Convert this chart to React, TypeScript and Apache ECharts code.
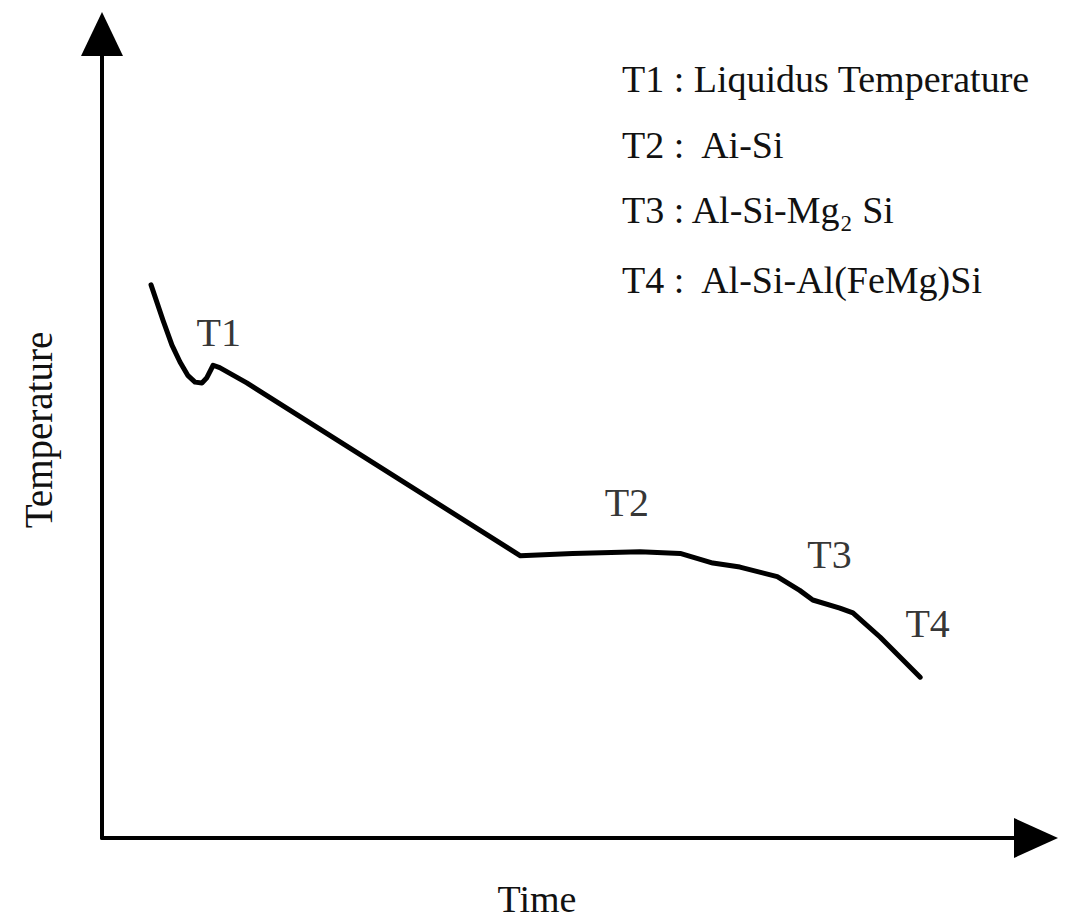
import React, { useEffect, useRef } from "react";
import * as echarts from "echarts";

// Cooling curve (schematic): time vs temperature, arbitrary units 0-100
const timeValues = [5.25, 6.53, 7.49, 8.35, 9.21, 9.96, 10.7, 11.2, 11.9, 12.6, 15.5, 44.8, 50.4, 57.6, 61.9, 65.4, 68.3, 72.3, 74.7, 76.1, 79.0, 80.4, 83.3, 87.6];
const tempValues = [68.8, 64.4, 61.3, 59.2, 57.5, 56.7, 56.6, 57.2, 58.8, 58.5, 56.6, 35.1, 35.4, 35.6, 35.4, 34.2, 33.7, 32.5, 30.8, 29.6, 28.6, 28.0, 25.0, 20.0];

// Annotation labels on the curve
const pointNames = ["T1", "T2", "T3", "T4"];
const pointTimes = [12.5, 56.2, 77.9, 88.4];
const pointTemps = [62.9, 41.7, 35.2, 26.7];

// Legend lines
const legendLines = [
  "T1 : Liquidus Temperature",
  "T2 :  Ai-Si",
  "T3 : Al-Si-Mg\u2082 Si",
  "T4 :  Al-Si-Al(FeMg)Si",
];

const axisNames = { x: "Time", y: "Temperature" };

const FONT = "'Liberation Serif', 'Times New Roman', serif";

export default function App() {
  const ref = useRef<HTMLDivElement>(null);
  useEffect(() => {
    if (!ref.current) return;
    const chart = echarts.init(ref.current, undefined, { renderer: "svg" });
    const curve = timeValues.map((t, i) => [t, tempValues[i]]);
    const labels = pointNames.map((n, i) => ({ name: n, value: [pointTimes[i], pointTemps[i]] }));
    const legendCenters = [82, 148, 213, 283];
    chart.setOption({
      animation: false,
      backgroundColor: "#ffffff",
      grid: { left: 102, right: 31, top: 34, bottom: 85 },
      xAxis: {
        type: "value",
        min: 0,
        max: 100,
        name: axisNames.x,
        nameLocation: "middle",
        nameGap: 42,
        nameTextStyle: { fontFamily: FONT, fontSize: 38, color: "#111", padding: [0, 64, 0, 0], verticalAlign: "top" },
        axisLine: { show: true, symbol: ["none", "triangle"], symbolSize: [40, 44], lineStyle: { color: "#000", width: 4 } },
        axisTick: { show: false },
        axisLabel: { show: false },
        splitLine: { show: false },
      },
      yAxis: {
        type: "value",
        min: 0,
        max: 100,
        name: axisNames.y,
        nameLocation: "middle",
        nameGap: 44,
        nameTextStyle: { fontFamily: FONT, fontSize: 39, color: "#111", padding: [0, 0, 0, 12] },
        axisLine: { show: true, symbol: ["none", "triangle"], symbolSize: [42, 44], lineStyle: { color: "#000", width: 4 } },
        axisTick: { show: false },
        axisLabel: { show: false },
        splitLine: { show: false },
      },
      series: [
        {
          type: "line",
          data: curve,
          showSymbol: false,
          smooth: false,
          lineStyle: { color: "#000", width: 5, cap: "round", join: "round" },
        },
        {
          type: "scatter",
          data: labels,
          symbolSize: 0,
          label: {
            show: true,
            position: "inside",
            formatter: "{b}",
            fontFamily: FONT,
            fontSize: 40,
            color: "#000",
            textBorderWidth: 0,
          },
        },
      ],
      graphic: legendLines.map((t, i) => ({
        type: "text",
        left: 622,
        top: legendCenters[i] - 22,
        style: { text: t, font: `38px ${FONT}`, fill: "#111" },
      })),
    });
    return () => chart.dispose();
  }, []);
  return <div ref={ref} style={{ position: "absolute", left: 0, top: 0, width: 1067, height: 923 }} />;
}
